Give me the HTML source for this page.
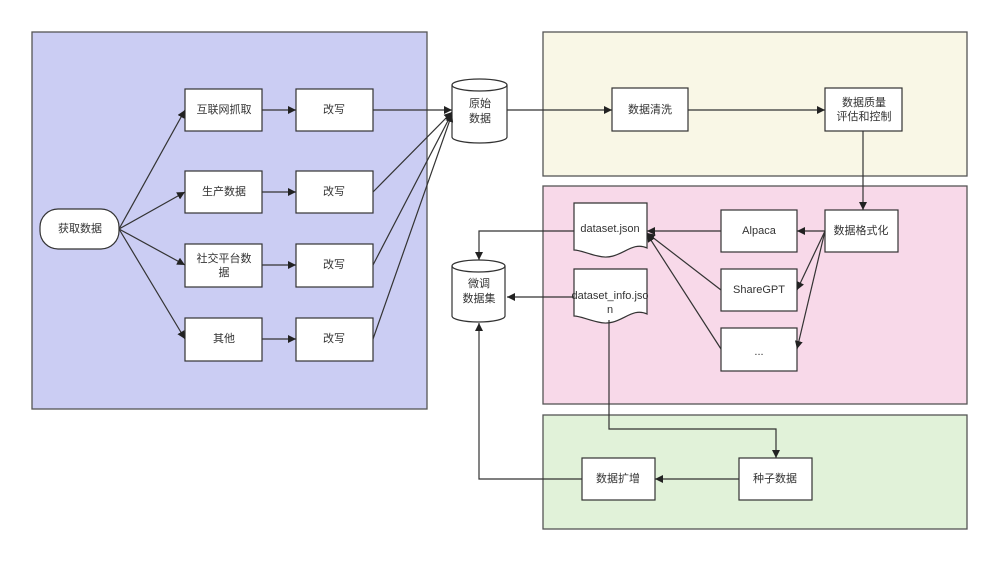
<!DOCTYPE html>
<html><head><meta charset="utf-8"><style>
html,body{margin:0;padding:0;background:#fff}
svg text{font-family:"Liberation Sans","Noto Sans CJK SC",sans-serif;font-size:11px;fill:#333;text-anchor:middle;dominant-baseline:middle}
</style></head><body>
<svg width="1000" height="562" viewBox="0 0 1000 562" xmlns="http://www.w3.org/2000/svg">
<defs><marker id="a" viewBox="0 0 10 10" refX="10" refY="5" markerWidth="8" markerHeight="8" orient="auto" markerUnits="userSpaceOnUse"><path d="M0,0L10,5L0,10z" fill="#222"/></marker></defs>
<g stroke="#555" stroke-width="1.3">
<rect x="32" y="32" width="395" height="377" fill="#cbcdf3"/>
<rect x="543" y="32" width="424" height="144" fill="#f9f7e6"/>
<rect x="543" y="186" width="424" height="218" fill="#f8d9e9"/>
<rect x="543" y="415" width="424" height="114" fill="#e1f2d9"/>
</g>
<g stroke="#333" stroke-width="1.2" fill="#fff">
<rect x="40" y="209" width="79" height="40" rx="18"/>
<rect x="185" y="89" width="77" height="42"/><rect x="296" y="89" width="77" height="42"/>
<rect x="185" y="171" width="77" height="42"/><rect x="296" y="171" width="77" height="42"/>
<rect x="185" y="244" width="77" height="43"/><rect x="296" y="244" width="77" height="43"/>
<rect x="185" y="318" width="77" height="43"/><rect x="296" y="318" width="77" height="43"/>
<path d="M452,85 A27.5,6 0 0 1 507,85 V137 A27.5,6 0 0 1 452,137 Z"/><path d="M452,85 A27.5,6 0 0 0 507,85" fill="none"/>
<path d="M452,266 A26.5,6 0 0 1 505,266 V316 A26.5,6 0 0 1 452,316 Z"/><path d="M452,266 A26.5,6 0 0 0 505,266" fill="none"/>
<rect x="612" y="88" width="76" height="43"/>
<rect x="825" y="88" width="77" height="43"/>
<rect x="825" y="210" width="73" height="42"/>
<rect x="721" y="210" width="76" height="42"/>
<rect x="721" y="269" width="76" height="42"/>
<rect x="721" y="328" width="76" height="43"/>
<path d="M574,203 H647 V248 C630,240 620,262 598,256 C588,254 580,250 574,250 Z"/>
<path d="M574,269 H647 V314 C630,306 620,328 598,322 C588,320 580,316 574,316 Z"/>
<rect x="582" y="458" width="73" height="42"/>
<rect x="739" y="458" width="73" height="42"/>
</g>
<g stroke="#333" stroke-width="1.2" fill="none" marker-end="url(#a)">
<line x1="119" y1="229" x2="185" y2="110"/><line x1="119" y1="229" x2="185" y2="192"/>
<line x1="119" y1="229" x2="185" y2="265"/><line x1="119" y1="229" x2="185" y2="339"/>
<line x1="262" y1="110" x2="296" y2="110"/><line x1="262" y1="192" x2="296" y2="192"/>
<line x1="262" y1="265" x2="296" y2="265"/><line x1="262" y1="339" x2="296" y2="339"/>
<line x1="373" y1="110" x2="452" y2="110"/><line x1="373" y1="192" x2="452" y2="112"/>
<line x1="373" y1="265" x2="452" y2="113"/><line x1="373" y1="339" x2="452" y2="114"/>
<line x1="507" y1="110" x2="612" y2="110"/><line x1="688" y1="110" x2="825" y2="110"/>
<line x1="863" y1="131" x2="863" y2="210"/>
<line x1="825" y1="231" x2="797" y2="231"/><line x1="825" y1="231" x2="797" y2="290"/><line x1="825" y1="231" x2="797" y2="349"/>
<line x1="721" y1="231" x2="647" y2="231"/><line x1="721" y1="290" x2="647" y2="233"/><line x1="721" y1="349" x2="647" y2="234"/>
<polyline points="574,231 479,231 479,260"/>
<line x1="574" y1="297" x2="507" y2="297"/>
<polyline points="609,320 609,429 776,429 776,458"/>
<line x1="739" y1="479" x2="655" y2="479"/>
<polyline points="582,479 479,479 479,323"/>
</g>
<text x="80" y="229">获取数据</text>
<text x="224" y="110">互联网抓取</text><text x="334" y="110">改写</text>
<text x="224" y="192">生产数据</text><text x="334" y="192">改写</text>
<text x="224" y="259">社交平台数</text><text x="224" y="273">据</text><text x="334" y="265">改写</text>
<text x="224" y="339">其他</text><text x="334" y="339">改写</text>
<text x="480" y="104">原始</text><text x="480" y="119">数据</text>
<text x="479" y="284">微调</text><text x="479" y="299">数据集</text>
<text x="650" y="110">数据清洗</text>
<text x="864" y="103">数据质量</text><text x="864" y="117">评估和控制</text>
<text x="861" y="231">数据格式化</text>
<text x="759" y="231">Alpaca</text><text x="759" y="290">ShareGPT</text><text x="759" y="352" font-size="8">...</text>
<text x="610" y="229">dataset.json</text>
<text x="610" y="296">dataset_info.jso</text><text x="610" y="310">n</text>
<text x="618" y="479">数据扩增</text><text x="775" y="479">种子数据</text>
</svg>
</body></html>
